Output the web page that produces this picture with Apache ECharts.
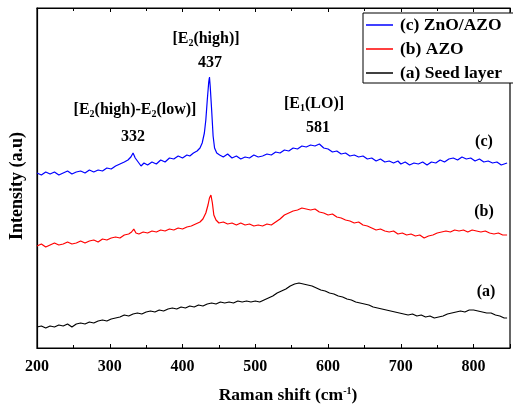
<!DOCTYPE html>
<html><head><meta charset="utf-8">
<script src="https://cdn.jsdelivr.net/npm/echarts@6/dist/echarts.min.js"></script>
<style>html,body{margin:0;padding:0;background:#fff}#c{width:513px;height:408px}</style>
</head><body><div id="c"></div>
<script>
// Raman shift (cm^-1) and intensity (a.u., arbitrary offset units)
const xTicks = [200, 300, 400, 500, 600, 700, 800];
const seriesNames = ['(c) ZnO/AZO', '(b) AZO', '(a) Seed layer'];

const shiftC = [200,206,212,218,224,230,236,242,248,254,260,266,272,278,284,290,296,302,308,314,320,325,329,332,335,339,343,347,352,358,364,370,376,382,388,394,400,406,410,415,420,424,427,430,432,434,436,437,438,440,442,444,447,451,456,462,468,474,480,486,492,498,504,510,516,522,528,534,540,546,552,558,564,570,576,582,588,594,600,606,612,618,624,630,636,642,648,654,660,666,672,678,684,690,696,700,706,712,718,724,730,736,742,748,754,760,766,772,778,784,790,796,802,808,814,820,826,832,838,846];
const intC   = [175,173,176,174,176,173,175,177,174,176,177,175,178,176,178,177,180,179,182,184,186,188,191,195,190,186,182,185,183,186,184,188,186,190,189,192,190,193,192,195,197,200,205,215,228,248,266,271,262,238,212,200,195,193,191,194,190,192,189,191,190,193,191,192,194,193,196,195,198,197,200,199,202,201,203,202,204,200,199,196,197,194,195,192,193,191,192,189,190,187,189,186,187,185,187,184,186,183,185,184,186,183,186,185,188,186,189,190,188,191,189,190,187,189,186,187,185,186,183,185];

const shiftB = [200,206,212,218,224,230,236,242,248,254,260,266,272,278,284,290,296,302,308,314,320,326,330,333,336,340,346,352,358,364,370,376,382,388,394,400,406,412,418,424,428,432,435,437,439,441,443,446,450,456,462,468,474,480,486,492,498,504,510,516,522,528,534,540,546,552,558,564,570,576,582,588,594,600,606,612,618,624,630,636,642,648,654,660,666,672,678,684,690,696,702,708,714,720,726,732,738,744,750,756,762,768,774,780,786,792,798,804,810,816,822,828,834,840,846];
const intB   = [102,104,101,103,105,103,104,106,104,105,107,105,107,108,106,109,108,110,111,110,113,114,116,119,115,114,116,115,117,116,118,117,119,118,120,119,121,122,124,126,129,135,143,150,153,145,133,128,125,126,124,125,123,125,123,124,122,123,122,124,123,126,129,133,135,137,138,140,139,138,139,136,135,133,134,131,130,128,127,125,126,123,122,120,118,119,117,116,117,114,115,113,114,112,113,110,112,113,115,116,117,116,118,117,118,116,118,117,116,117,115,114,115,113,113];

const shiftA = [200,206,212,218,224,230,236,242,248,254,260,266,272,278,284,290,296,302,308,314,320,326,332,338,344,350,356,362,368,374,380,386,392,398,404,410,416,422,428,434,440,446,452,458,464,470,476,482,488,494,500,506,512,518,524,530,536,542,548,554,560,566,572,578,584,590,596,602,608,614,620,626,632,638,644,650,656,662,668,674,680,686,692,698,704,710,716,722,728,734,740,746,752,758,764,770,776,782,788,794,800,806,812,818,824,830,836,842,846];
const intA   = [21,22,20,22,21,23,22,24,21,24,25,24,26,25,27,28,27,29,30,31,33,32,34,35,34,36,37,36,38,37,39,40,39,41,40,42,41,43,42,44,45,44,46,45,46,45,47,46,47,46,47,46,48,50,52,55,57,59,62,64,65,64,63,62,60,58,57,55,54,52,51,49,48,46,45,44,43,41,40,39,38,37,36,35,34,33,34,32,33,31,32,30,31,32,34,35,36,37,36,38,38,37,36,35,35,33,32,30,30];

const colors = ['#0000ff', '#ff0000', '#000000'];
const serif = '"Liberation Serif", "Times New Roman", serif';

function pairs(xs, ys){ return xs.map((x,i)=>[x, ys[i]]); }
const seriesData = [pairs(shiftC,intC), pairs(shiftB,intB), pairs(shiftA,intA)];

const chart = echarts.init(document.getElementById('c'), null, {renderer:'canvas'});
const rich = { s:{ fontSize:10, fontWeight:'bold', fontFamily:serif, padding:[9,0,0,0] },
               u:{ fontSize:10, fontWeight:'bold', fontFamily:serif, padding:[0,0,8,0] } };

function label(text, x, y, size){
  return { type:'text', x, y,
    style:{ text, align:'center', verticalAlign:'middle', fill:'#000',
      fontSize:size||16, fontWeight:'bold', fontFamily:serif, rich } };
}

chart.setOption({
  animation:false,
  backgroundColor:'#fff',
  grid:{ left:37, top:8, width:478, height:340, containLabel:false,
         show:true, borderColor:'#000', borderWidth:1.2, backgroundColor:'transparent' },
  legend:{
    data: seriesNames, orient:'vertical', left:363, top:13,
    icon:'rect', itemWidth:27, itemHeight:1.5, itemGap:6,
    borderColor:'#000', borderWidth:1, padding:[3,40,1,3],
    backgroundColor:'#fff',
    textStyle:{ fontFamily:serif, fontWeight:'bold', fontSize:17.5, color:'#000', padding:[0,0,0,2] }
  },
  xAxis:[{
    type:'value', min:200, max:850, interval:100,
    axisLine:{ onZero:false, lineStyle:{ color:'#000', width:1.2 } },
    axisTick:{ inside:true, length:4, lineStyle:{ color:'#000' } },
    minorTick:{ show:true, splitNumber:2, length:3, lineStyle:{ color:'#000' } },
    splitLine:{ show:false },
    axisLabel:{ color:'#000', fontFamily:serif, fontWeight:'bold', fontSize:16, margin:11,
      formatter: v => xTicks.indexOf(v) >= 0 ? String(v) : '' }
  },{
    type:'value', position:'top', min:200, max:850, interval:100, show:true,
    axisLine:{ show:true, onZero:false, lineStyle:{ color:'#000', width:1.2 } },
    axisTick:{ show:true, inside:true, length:4, lineStyle:{ color:'#000' } },
    minorTick:{ show:true, splitNumber:2, length:3, lineStyle:{ color:'#000' } },
    splitLine:{ show:false }, axisLabel:{ show:false }
  }],
  yAxis:{
    type:'value', min:0, max:340,
    axisLine:{ show:true, lineStyle:{ color:'#000', width:1.2 } },
    axisTick:{ show:false }, axisLabel:{ show:false }, splitLine:{ show:false }
  },
  series: seriesNames.map((n,i)=>({
    name:n, type:'line', data: seriesData[i], symbol:'none', showSymbol:false,
    lineStyle:{ color:colors[i], width:1.2 }, itemStyle:{ color:colors[i] }
  })),
  graphic:[
    label('Raman shift (cm{u|-1})', 288, 395, 17.5),
    { type:'text', x:17, y:186, rotation:Math.PI/2,
      style:{ text:'Intensity (a.u)', align:'center', verticalAlign:'middle', fill:'#000',
        fontSize:18, fontWeight:'bold', fontFamily:serif } },
    label('[E{s|2}(high)-E{s|2}(low)]', 135, 110),
    label('332', 133, 137),
    label('[E{s|2}(high)]', 206, 39),
    label('437', 210, 63),
    label('[E{s|1}(LO)]', 314, 104),
    label('581', 318, 128),
    label('(c)', 484, 142),
    label('(b)', 484, 212),
    label('(a)', 486, 292)
  ]
});
</script></body></html>
